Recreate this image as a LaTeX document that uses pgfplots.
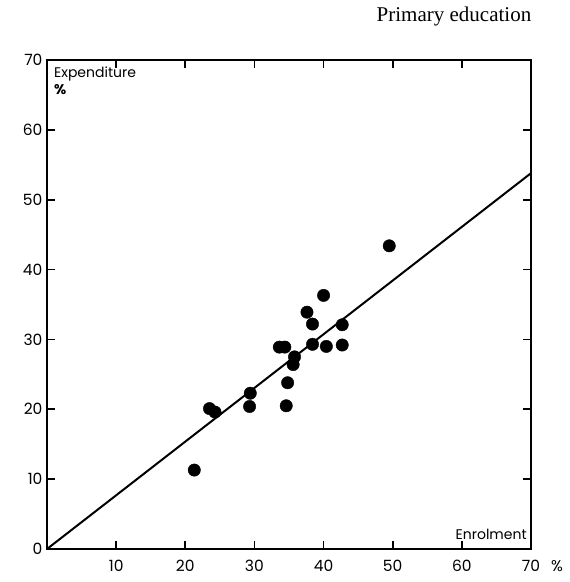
\documentclass[border=0pt]{standalone}
\usepackage{fontspec}
\setmainfont{Poppins}
\newfontfamily\seriffont{Liberation Serif}
\usepackage{pgfplots}
\pgfplotsset{compat=1.18}
\begin{document}
\begin{tikzpicture}
\path[use as bounding box] (-47pt,-33pt) rectangle (523pt,549pt);
\begin{axis}[
  at={(0pt,0pt)}, anchor=south west,
  scale only axis, width=484pt, height=489pt,
  xmin=0, xmax=70, ymin=0, ymax=70,
  xtick={10,20,...,70}, ytick={0,10,...,70},
  tick align=inside, major tick length=8pt,
  tick style={line width=1.6pt, black},
  axis line style={line width=2.2pt},
  /pgf/number format/assume math mode=true,
  tick label style={font=\fontsize{15.5}{15.5}\selectfont},
  xticklabel style={yshift=-8pt},
  yticklabel style={xshift=-1pt},
  clip=false,
]
\addplot[only marks, mark=*, mark size=6.2pt, black] coordinates {
(49.5,43.4) (40.0,36.3) (37.6,33.9) (38.4,32.2) (42.7,32.1)
(33.6,28.9) (34.4,28.9) (38.4,29.3) (40.4,29.0) (42.7,29.2)
(35.8,27.5) (35.6,26.4) (34.8,23.8) (29.4,22.3) (29.3,20.4)
(34.6,20.5) (23.5,20.1) (24.3,19.6) (21.3,11.3)
};
\addplot[black, line width=2pt] coordinates {(0,0) (70,53.8)};
\node[anchor=north west, align=left, font=\fontsize{14}{17}\selectfont, inner sep=0pt] at (axis cs:1.0,69.0) {Expenditure\\\textbf{\%}};
\node[anchor=south east, font=\fontsize{14}{14}\selectfont, inner sep=0pt] at (axis cs:69.4,1.3) {Enrolment};
\node[anchor=center, font=\fontsize{15.5}{15.5}\selectfont] at ([xshift=26pt,yshift=-17pt]axis cs:70,0) {\%};
\end{axis}
\node[font=\seriffont\fontsize{21}{21}\selectfont] at (407pt,533pt) {Primary education};
\end{tikzpicture}
\end{document}
